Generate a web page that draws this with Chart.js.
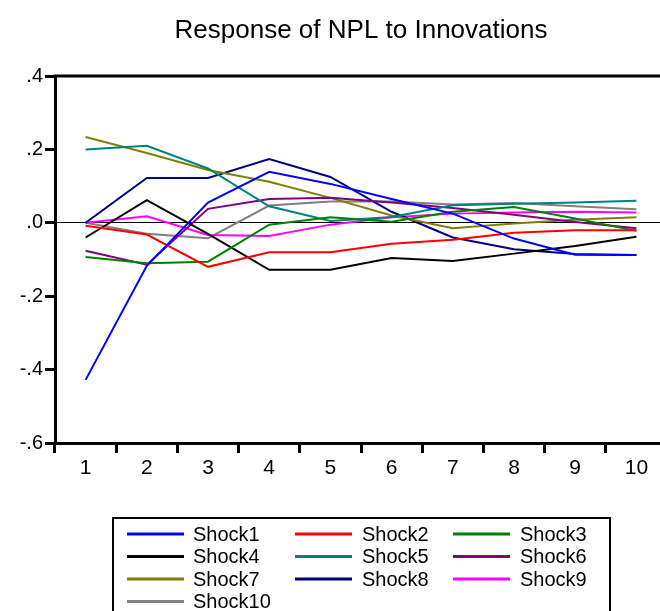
<!DOCTYPE html>
<html>
<head>
<meta charset="utf-8">
<script src="https://cdn.jsdelivr.net/npm/chart.js@4.4.0/dist/chart.umd.min.js"></script>
<style>
html, body { margin: 0; padding: 0; background: #fff; overflow: hidden; }
#wrap { width: 672px; height: 611px; }
</style>
</head>
<body>
<div id="wrap"><canvas id="irf" width="672" height="611"></canvas></div>
<script>
// periods after the shock
var periods = ['1', '2', '3', '4', '5', '6', '7', '8', '9', '10'];

// responses
var shock1  = [-0.428, -0.117, 0.055, 0.139, 0.106, 0.065, 0.025, -0.043, -0.087, -0.088];
var shock2  = [-0.008, -0.032, -0.120, -0.080, -0.080, -0.057, -0.046, -0.027, -0.020, -0.020];
var shock3  = [-0.093, -0.110, -0.106, -0.005, 0.015, 0.003, 0.030, 0.043, 0.012, -0.022];
var shock4  = [-0.040, 0.062, -0.030, -0.128, -0.128, -0.096, -0.104, -0.084, -0.063, -0.038];
var shock5  = [0.200, 0.210, 0.148, 0.045, 0.005, 0.016, 0.048, 0.052, 0.055, 0.060];
var shock6  = [-0.076, -0.114, 0.038, 0.065, 0.068, 0.055, 0.040, 0.022, 0.002, -0.015];
var shock7  = [0.234, 0.190, 0.144, 0.112, 0.068, 0.020, -0.015, -0.002, 0.008, 0.015];
var shock8  = [0.000, 0.122, 0.122, 0.174, 0.125, 0.030, -0.040, -0.072, -0.085, -0.088];
var shock9  = [0.000, 0.018, -0.033, -0.036, -0.005, 0.015, 0.025, 0.028, 0.030, 0.028];
var shock10 = [0.000, -0.030, -0.042, 0.047, 0.058, 0.058, 0.050, 0.054, 0.045, 0.037];

var seriesNames = ['Shock1', 'Shock2', 'Shock3', 'Shock4', 'Shock5', 'Shock6', 'Shock7', 'Shock8', 'Shock9', 'Shock10'];
var seriesValues = [shock1, shock2, shock3, shock4, shock5, shock6, shock7, shock8, shock9, shock10];
var seriesColors = ['#0000ff', '#ff0000', '#008000', '#000000', '#008080', '#800080', '#808000', '#000080', '#ff00ff', '#808080'];

var yMin = -0.6, yMax = 0.4, yStep = 0.2;
var chartTitle = 'Response of NPL to Innovations';

var fontName = '"Liberation Sans", Arial, sans-serif';

// eviews style tick text: .4  -.2  .0
function evLabel(v) {
    var s = (Math.round(v * 10) / 10).toFixed(1);
    return s.replace('0.', '.');
}

var datasets = [];
for (var i = 0; i < seriesNames.length; i++) {
    datasets.push({
        label: seriesNames[i],
        data: seriesValues[i],
        borderColor: seriesColors[i],
        backgroundColor: seriesColors[i],
        borderWidth: 2,
        pointRadius: 0,
        tension: 0,
        fill: false
    });
}

// title over the plot, frame top/right, and the boxed legend
var extras = {
    id: 'extras',
    afterDraw: function (chart) {
        var c = chart.ctx, a = chart.chartArea;
        c.save();
        c.strokeStyle = '#000';
        c.lineWidth = 3;
        c.beginPath();
        c.moveTo(a.left - 1.5, a.top);
        c.lineTo(a.right, a.top);
        c.lineTo(a.right, a.bottom);
        c.stroke();

        c.fillStyle = '#000';
        c.font = '26px ' + fontName;
        c.textAlign = 'center';
        c.textBaseline = 'alphabetic';
        c.fillText(chartTitle, (a.left + a.right) / 2, 38);

        // legend box
        c.lineWidth = 2;
        c.strokeRect(113, 518, 497, 120);
        var colLine = [127, 295, 453];
        var colText = [193, 362, 520];
        c.font = '20px ' + fontName;
        c.textAlign = 'left';
        c.textBaseline = 'middle';
        chart.data.datasets.forEach(function (ds, k) {
            var col = k % 3, row = Math.floor(k / 3);
            var y = 534 + row * 22.5;
            c.strokeStyle = ds.borderColor;
            c.lineWidth = 3;
            c.beginPath();
            c.moveTo(colLine[col], y);
            c.lineTo(colLine[col] + 57, y);
            c.stroke();
            c.fillStyle = '#000';
            c.fillText(ds.label, colText[col], y + 1);
        });
        c.restore();
    }
};

new Chart(document.getElementById('irf'), {
    type: 'line',
    data: { labels: periods, datasets: datasets },
    plugins: [extras],
    options: {
        responsive: false,
        animation: false,
        devicePixelRatio: 1,
        layout: { padding: { top: 76, left: 0, right: 5, bottom: 123 } },
        plugins: {
            legend: { display: false },
            title: { display: false },
            tooltip: { enabled: false }
        },
        scales: {
            x: {
                offset: true,
                afterFit: function (s) { s.height = 45; },
                grid: {
                    offset: true,
                    drawOnChartArea: false,
                    tickLength: 10,
                    tickWidth: 3,
                    tickColor: '#000'
                },
                border: { display: true, width: 3, color: '#000' },
                ticks: { color: '#000', padding: 3, maxRotation: 0, font: { family: fontName, size: 21 } }
            },
            y: {
                min: yMin,
                max: yMax,
                afterFit: function (s) { s.width = 55; },
                grid: {
                    drawOnChartArea: true,
                    color: function (ctx) {
                        return ctx.tick && Math.abs(ctx.tick.value) < 1e-9 ? '#000' : 'rgba(0,0,0,0)';
                    },
                    lineWidth: 1,
                    tickLength: 10,
                    tickWidth: 3,
                    tickColor: '#000'
                },
                border: { display: true, width: 3, color: '#000' },
                ticks: {
                    stepSize: yStep,
                    color: '#000',
                    padding: 2,
                    font: { family: fontName, size: 20 },
                    callback: function (v) { return evLabel(v); }
                }
            }
        }
    }
});
</script>
</body>
</html>
